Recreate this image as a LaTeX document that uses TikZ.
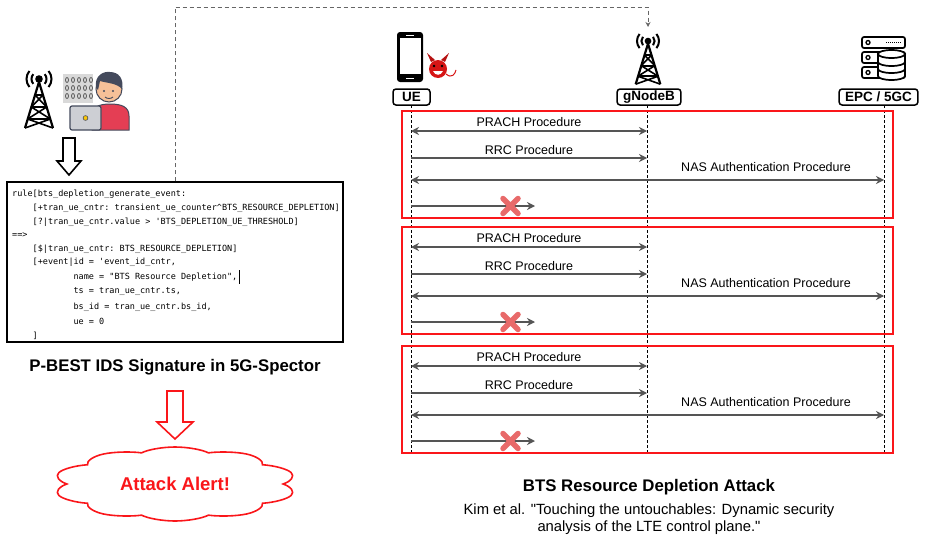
\documentclass[tikz,border=0pt]{standalone}
\usepackage{fontspec}
\setmainfont{Liberation Sans}[Ligatures=TeXOff]
\setmonofont{DejaVu Sans Mono}
\usetikzlibrary{arrows.meta, positioning, calc, shapes.symbols}
\definecolor{alertred}{RGB}{250, 22, 26}
\definecolor{msggray}{RGB}{85, 85, 85}
\definecolor{crossred}{RGB}{232, 106, 106}
\definecolor{shirtred}{RGB}{228, 62, 84}
\definecolor{skin}{RGB}{246, 192, 152}
\definecolor{hair}{RGB}{68, 74, 92}
\definecolor{laptopgray}{RGB}{205, 207, 212}
\definecolor{devilred}{RGB}{214, 22, 22}

% radio mast icon, drawn from its top centre downwards
\tikzset{
    antenna/.pic={
        \fill (0,8) circle (3.8);
        \draw[line width=2pt] (0,8) ++(40:7.5) arc (40:-40:7.5);
        \draw[line width=2pt] (0,8) ++(140:7.5) arc (140:220:7.5);
        \draw[line width=2pt] (0,8) ++(40:12.5) arc (40:-40:12.5);
        \draw[line width=2pt] (0,8) ++(140:12.5) arc (140:220:12.5);
        \draw[line width=2.2pt, line join=round] (0,11) -- (-14,57) (0,11) -- (14,57);
        \draw[line width=1.8pt] (-4,24) -- (4,24) (-7.7,36) -- (7.7,36) (-11.4,48) -- (11.4,48);
        \draw[line width=1.6pt] (-4,24) -- (7.7,36) (4,24) -- (-7.7,36)
                                (-7.7,36) -- (11.4,48) (7.7,36) -- (-11.4,48)
                                (-11.4,48) -- (14,57) (11.4,48) -- (-14,57);
    }
}

\begin{document}
\begin{tikzpicture}[x=1pt, y=-1pt,
    entity/.style={draw, rounded corners=3pt, line width=1.5pt, font=\fontsize{13.5}{15}\selectfont\bfseries, minimum height=16pt, inner xsep=6pt, inner ysep=0pt},
    lifeline/.style={line width=0.7pt, dash pattern=on 3pt off 2pt},
    attempt/.style={draw=alertred, line width=1.7pt, minimum width=491pt, minimum height=107pt, anchor=north west, inner sep=0pt},
    msg/.style={msggray, line width=1.2pt, >={Stealth[length=8pt, width=8pt]}, ->},
    bimsg/.style={msg, <->},
    msglabel/.style={font=\fontsize{12.5}{14}\selectfont, inner sep=0pt},
    codeline/.style={anchor=west, inner sep=0pt, font=\ttfamily\fontsize{8.5}{10}\selectfont},
    heading/.style={font=\fontsize{16.8}{19}\selectfont\bfseries, inner sep=0pt},
    link/.style={draw=black!60, line width=1pt, dash pattern=on 4pt off 3pt, -{Stealth[length=5pt, width=5pt]}},
    drop/.style={crossred, line width=5.5pt, line cap=round}
]
    \useasboundingbox (0,0) rectangle (928,538);

    % Monitoring side: base station and analyst
    \pic at (39,71) {antenna};
    \fill[gray!30] (63,74) rectangle (93,103);
    \foreach \r in {80,88,96}
        \foreach \c in {67,73,...,91}
            \draw[black!65, line width=0.8pt] (\c,\r) ellipse (1.5 and 2.5);
    \fill[shirtred, draw=hair, line width=1pt] (92,130) -- (92,116) .. controls (92,107) and (99,104) .. (110,104) .. controls (122,104) and (129,107) .. (129,116) -- (129,130) -- cycle;
    \fill[skin, draw=hair, line width=1pt] (109,89) circle (13);
    \fill[hair] (96,88) .. controls (94,75) and (104,71) .. (110,72) .. controls (119,72) and (124,79) .. (122,89) .. controls (117,83) and (106,83) .. (100,81) -- (98,90) -- cycle;
    \fill[hair] (104,91) circle (1.1) (113,91) circle (1.1);
    \draw[hair, line width=0.9pt] (105,97) .. controls (107,99) and (111,99) .. (113,97);
    \fill[laptopgray, draw=hair, line width=1.2pt, rounded corners=2pt] (70,106) rectangle (101,130);
    \fill[yellow!60!orange, draw=hair, line width=0.6pt] (85.5,118) circle (2.4);

    % Signature box
    \draw[line width=1.6pt] (63,138) -- (75,138) -- (75,161) -- (81,161) -- (69,175) -- (57,161) -- (63,161) -- cycle;
    \node[draw, line width=1.3pt, minimum width=336pt, minimum height=160pt, inner sep=0pt] (code) at (175,262) {};
    \node[codeline] (cl1) at (12,194) {\detokenize{rule[bts_depletion_generate_event:}};
    \node[codeline] (cl2) at (32.5,208) {\detokenize{[+tran_ue_cntr: transient_ue_counter^BTS_RESOURCE_DEPLETION]}};
    \node[codeline] (cl3) at (32.5,222) {\detokenize{[?|tran_ue_cntr.value > 'BTS_DEPLETION_UE_THRESHOLD]}};
    \node[codeline] (cl4) at (12,235) {\detokenize{==>}};
    \node[codeline] (cl5) at (32.5,249) {\detokenize{[$|tran_ue_cntr: BTS_RESOURCE_DEPLETION]}};
    \node[codeline] (cl6) at (32.5,262) {\detokenize{[+event|id = 'event_id_cntr,}};
    \node[codeline] (cl7) at (73.4,277) {\detokenize{name = "BTS Resource Depletion",}};
    \node[codeline] (cl8) at (73.4,292) {\detokenize{ts = tran_ue_cntr.ts,}};
    \node[codeline] (cl9) at (73.4,307) {\detokenize{bs_id = tran_ue_cntr.bs_id,}};
    \node[codeline] (cl10) at (73.4,321) {\detokenize{ue = 0}};
    \node[codeline] (cl11) at (32.5,336) {\detokenize{]}};
    \draw[line width=0.8pt] ([xshift=2pt]cl7.east) ++(0,-7) -- ++(0,14);
    \node[heading] (sigtitle) at (175,367) {P-BEST IDS Signature in 5G-Spector};

    % Alert
    \draw[alertred, line width=1.6pt] (167,391) -- (183,391) -- (183,422) -- (193,422) -- (175,439) -- (157,422) -- (167,422) -- cycle;
    \node[cloud, cloud puffs=10, cloud puff arc=120, aspect=1, draw=alertred, line width=1.6pt, fill=white,
          minimum size=74pt, inner sep=0pt, xscale=3.3, transform shape] (alert) at (175,484) {};
    \node[text=alertred, font=\fontsize{18.5}{21}\selectfont\bfseries] (alerttext) at (alert.center) {Attack Alert!};

    % Entities
    \fill[black, rounded corners=3pt] (397,32) rectangle (423,82);
    \fill[white] (399.5,38) rectangle (420.5,74);
    \draw[white, line width=0.8pt] (406,35) -- (414,35);
    \draw[white, line width=1pt] (406,78) -- (414,78);
    \fill[devilred] (438,69) circle (9);
    \fill[devilred!85!black] (431,62) -- (427,53) -- (435,60) -- cycle;
    \fill[devilred!85!black] (445,62) -- (449,53) -- (441,60) -- cycle;
    \fill[black] (434,66) circle (1.3) (442,66) circle (1.3);
    \fill[white] (433,71) .. controls (435,76) and (441,76) .. (443,71) -- cycle;
    \draw[devilred, line width=1pt] (446,74) .. controls (452,79) and (455,74) .. (456,70);
    \pic[scale=0.88] at (648,34) {antenna};
    \foreach \r in {37,52,67}
        \draw[line width=1.7pt, rounded corners=2pt, fill=white] (862,\r) rectangle (905,\r+11);
    \foreach \r in {42.5,57.5,72.5}
        \draw[line width=1.3pt] (868,\r) circle (2);
    \draw[line width=1pt, dash pattern=on 1pt off 1pt] (886,42.5) -- (901,42.5);
    \draw[line width=1.7pt, fill=white] (878,54) -- (878,76) arc (180:0:13.5 and 4) -- (905,54) -- cycle;
    \draw[line width=1.7pt, fill=white] (891.5,54) ellipse (13.5 and 4);
    \draw[line width=1.7pt] (878,62) arc (180:0:13.5 and 4) (878,69) arc (180:0:13.5 and 4);

    \node[entity, minimum width=37pt] (uebox) at (411.5,97) {UE};
    \node[entity] (gnbbox) at (649,97) {gNodeB};
    \node[entity] (corebox) at (878.5,97) {EPC / 5GC};

    % Lifelines
    \coordinate (ue) at (411,105);
    \coordinate (gnb) at (647,105);
    \coordinate (core) at (884,105);
    \draw[lifeline] (ue) -- (ue |- 0,452);
    \draw[lifeline] (gnb) -- (gnb |- 0,452);
    \draw[lifeline] (core) -- (core |- 0,452);

    % Signature fed by the gNodeB traffic
    \coordinate (bend) at (648,7);
    \coordinate (gnbtop) at (648,27);
    \draw[link] (code.north) |- (bend) -- (gnbtop);

    % Repeated attach attempts
    \foreach \t in {110,226,345} {
        \node[attempt] (try\t) at (401,\t) {};
        \node[msglabel] (prach\t) at (529,\t+12) {PRACH Procedure};
        \draw[bimsg] (ue |- 0,\t+21) -- (gnb |- 0,\t+21);
        \node[msglabel] (rrc\t) at (529,\t+40) {RRC Procedure};
        \draw[msg] (ue |- 0,\t+48) -- (gnb |- 0,\t+48);
        \node[msglabel] (nas\t) at (766,\t+57) {NAS Authentication Procedure};
        \draw[bimsg] (ue |- 0,\t+70) -- (core |- 0,\t+70);
        \coordinate (drop\t) at (535,\t+96);
        \draw[msg] (ue |- 0,\t+96) -- (drop\t);
        \draw[drop] (503,\t+88.5) -- (518,\t+103.5) (503,\t+103.5) -- (518,\t+88.5);
    }

    % Captions
    \node[heading] (attacktitle) at (649,487) {BTS Resource Depletion Attack};
    \node[font=\fontsize{14.8}{17}\selectfont, align=center, inner sep=0pt] (cite) at (649,519)
        {Kim et al. "Touching the untouchables: Dynamic security\\analysis of the LTE control plane."};
\end{tikzpicture}
\end{document}
